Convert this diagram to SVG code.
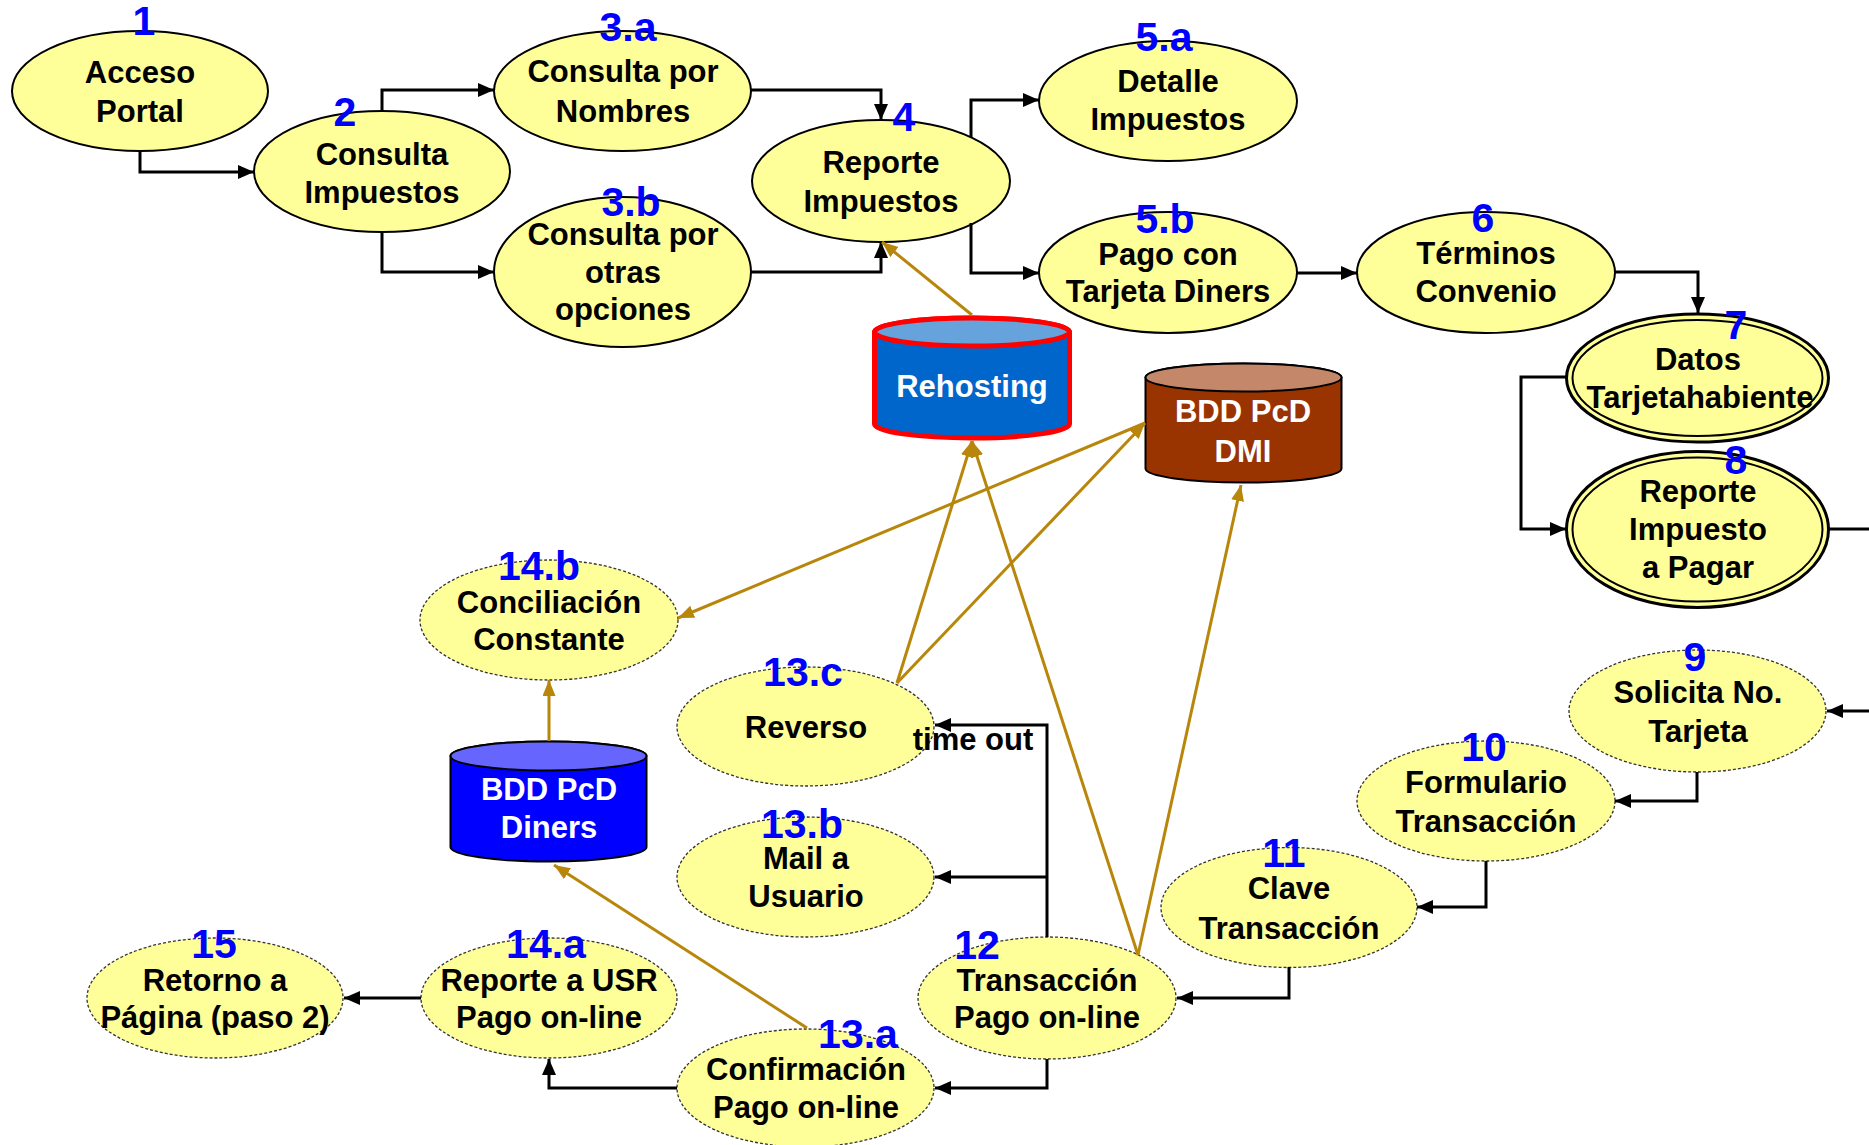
<svg xmlns="http://www.w3.org/2000/svg" width="1869" height="1145" viewBox="0 0 1869 1145">
<style>
.n{fill:#FFFF99;stroke:#000;stroke-width:2}
.d{fill:#FFFF99;stroke:#333;stroke-width:1.3;stroke-dasharray:3,2}
.in{fill:none;stroke:#000;stroke-width:2}
.t{font-family:"Liberation Sans",Arial,sans-serif;font-weight:bold;font-size:31px;text-anchor:middle;fill:#000}
.w{fill:#FFF}
.l{font-family:"Liberation Sans",Arial,sans-serif;font-weight:bold;font-size:41px;text-anchor:middle;fill:#0000FF}
.k{fill:none;stroke:#000;stroke-width:3}
.g{fill:none;stroke:#B8860B;stroke-width:3}
</style>
<defs>
<marker id="ab" markerUnits="userSpaceOnUse" markerWidth="17" markerHeight="15" refX="16" refY="7" orient="auto"><path d="M0,0 L16,7 L0,14 z" fill="#000"/></marker>
<marker id="ag" markerUnits="userSpaceOnUse" markerWidth="17" markerHeight="14" refX="16" refY="6.5" orient="auto"><path d="M0,0 L16,6.5 L0,13 z" fill="#B8860B"/></marker>
</defs>
<rect width="1869" height="1145" fill="#FFF"/>
<g id="n1"><ellipse class="n" cx="140" cy="91" rx="128" ry="60"/><text class="t" x="140" y="83">Acceso</text><text class="t" x="140" y="122">Portal</text><text class="l" x="144" y="35">1</text></g>
<g id="n2"><ellipse class="n" cx="382" cy="171.5" rx="128" ry="60.5"/><text class="t" x="382" y="165">Consulta</text><text class="t" x="382" y="203">Impuestos</text><text class="l" x="345" y="126">2</text></g>
<g id="n3a"><ellipse class="n" cx="622.5" cy="91" rx="128.5" ry="60"/><text class="t" x="623" y="82">Consulta por</text><text class="t" x="623" y="122">Nombres</text><text class="l" x="628" y="41">3.a</text></g>
<g id="n3b"><ellipse class="n" cx="622.5" cy="272" rx="128.5" ry="75"/><text class="t" x="623" y="245">Consulta por</text><text class="t" x="623" y="283">otras</text><text class="t" x="623" y="320">opciones</text><text class="l" x="631" y="216">3.b</text></g>
<g id="n4"><ellipse class="n" cx="881" cy="181" rx="129" ry="61"/><text class="t" x="881" y="173">Reporte</text><text class="t" x="881" y="212">Impuestos</text><text class="l" x="904" y="131">4</text></g>
<g id="n5a"><ellipse class="n" cx="1168" cy="101" rx="129" ry="60"/><text class="t" x="1168" y="92">Detalle</text><text class="t" x="1168" y="130">Impuestos</text><text class="l" x="1164" y="51">5.a</text></g>
<g id="n5b"><ellipse class="n" cx="1168" cy="272.5" rx="129" ry="60.5"/><text class="t" x="1168" y="265">Pago con</text><text class="t" x="1168" y="302">Tarjeta Diners</text><text class="l" x="1165" y="233">5.b</text></g>
<g id="n6"><ellipse class="n" cx="1486" cy="272.5" rx="129" ry="60.5"/><text class="t" x="1486" y="264">Términos</text><text class="t" x="1486" y="302">Convenio</text><text class="l" x="1483" y="232">6</text></g>
<g id="n7"><ellipse class="n" cx="1697.5" cy="378" rx="131" ry="64" style="stroke-width:3"/><ellipse class="in" cx="1697.5" cy="378" rx="125" ry="58"/><text class="t" x="1698" y="370">Datos</text><text class="t" x="1700" y="408">Tarjetahabiente</text><text class="l" x="1736" y="339">7</text></g>
<g id="n8"><ellipse class="n" cx="1697.5" cy="529.5" rx="131" ry="78" style="stroke-width:3"/><ellipse class="in" cx="1697.5" cy="529.5" rx="125" ry="72"/><text class="t" x="1698" y="502">Reporte</text><text class="t" x="1698" y="540">Impuesto</text><text class="t" x="1698" y="578">a Pagar</text><text class="l" x="1736" y="474">8</text></g>
<g id="n9"><ellipse class="d" cx="1697.5" cy="711" rx="128.5" ry="61"/><text class="t" x="1698" y="703">Solicita No.</text><text class="t" x="1698" y="742">Tarjeta</text><text class="l" x="1695" y="671">9</text></g>
<g id="n10"><ellipse class="d" cx="1486" cy="801" rx="129" ry="60"/><text class="t" x="1486" y="793">Formulario</text><text class="t" x="1486" y="832">Transacción</text><text class="l" x="1484" y="761">10</text></g>
<g id="n11"><ellipse class="d" cx="1289" cy="907.5" rx="128" ry="60"/><text class="t" x="1289" y="899">Clave</text><text class="t" x="1289" y="939">Transacción</text><text class="l" x="1284" y="867">11</text></g>
<g id="n12"><ellipse class="d" cx="1047" cy="998" rx="129" ry="61"/><text class="t" x="1047" y="991">Transacción</text><text class="t" x="1047" y="1028">Pago on-line</text><text class="l" x="977" y="959">12</text></g>
<g id="n13a"><ellipse class="d" cx="805.5" cy="1088" rx="128.5" ry="59"/><text class="t" x="806" y="1080">Confirmación</text><text class="t" x="806" y="1118">Pago on-line</text><text class="l" x="858" y="1048">13.a</text></g>
<g id="n13b"><ellipse class="d" cx="805.5" cy="877" rx="128.5" ry="60"/><text class="t" x="806" y="869">Mail a</text><text class="t" x="806" y="907">Usuario</text><text class="l" x="802" y="838">13.b</text></g>
<g id="n13c"><ellipse class="d" cx="805.5" cy="726.5" rx="128.5" ry="59.5"/><text class="t" x="806" y="738">Reverso</text><text class="l" x="803" y="686">13.c</text></g>
<g id="n14a"><ellipse class="d" cx="549" cy="998" rx="128" ry="60"/><text class="t" x="549" y="991">Reporte a USR</text><text class="t" x="549" y="1028">Pago on-line</text><text class="l" x="546" y="958">14.a</text></g>
<g id="n14b"><ellipse class="d" cx="549" cy="620" rx="129" ry="60"/><text class="t" x="549" y="613">Conciliación</text><text class="t" x="549" y="650">Constante</text><text class="l" x="539" y="580">14.b</text></g>
<g id="n15"><ellipse class="d" cx="215" cy="998" rx="128" ry="60"/><text class="t" x="215" y="991">Retorno a</text><text class="t" x="215" y="1028">Página (paso 2)</text><text class="l" x="214" y="958">15</text></g>
<g id="rehosting"><path d="M874.5,332 V424 A97.5,14 0 0 0 1069.5,424 V332 A97.5,14 0 0 0 874.5,332 Z" fill="#0066CC" stroke="#FF0000" stroke-width="5"/><ellipse cx="972" cy="332" rx="97.5" ry="14" fill="#66A3DD" stroke="#FF0000" stroke-width="5"/><text class="t w" x="972" y="397">Rehosting</text></g>
<g id="dmi"><path d="M1145.5,377.5 V468.5 A98,14 0 0 0 1341.5,468.5 V377.5 A98,14 0 0 0 1145.5,377.5 Z" fill="#993300" stroke="#000" stroke-width="2"/><ellipse cx="1243.5" cy="377.5" rx="98" ry="14" fill="#C4876A" stroke="#000" stroke-width="2"/><text class="t w" x="1243" y="422">BDD PcD</text><text class="t w" x="1243" y="462">DMI</text></g>
<g id="diners"><path d="M450.5,756 V847 A98,14.5 0 0 0 646.5,847 V756 A98,14.5 0 0 0 450.5,756 Z" fill="#0000FF" stroke="#000" stroke-width="2"/><ellipse cx="548.5" cy="756" rx="98" ry="14.5" fill="#6666FF" stroke="#000" stroke-width="2"/><text class="t w" x="549" y="800">BDD PcD</text><text class="t w" x="549" y="838">Diners</text></g>
<g id="connectors">
<path class="k" d="M140,151 V172 H254" marker-end="url(#ab)"/>
<path class="k" d="M382,111 V90 H494" marker-end="url(#ab)"/>
<path class="k" d="M382,232 V272 H494" marker-end="url(#ab)"/>
<path class="k" d="M751,90 H881 V120" marker-end="url(#ab)"/>
<path class="k" d="M751,272 H881 V242" marker-end="url(#ab)"/>
<path class="k" d="M971,137 V100 H1039" marker-end="url(#ab)"/>
<path class="k" d="M971,223 V273 H1039" marker-end="url(#ab)"/>
<path class="k" d="M1297,273 H1357" marker-end="url(#ab)"/>
<path class="k" d="M1615,272 H1698 V313" marker-end="url(#ab)"/>
<path class="k" d="M1566,377 H1521 V529 H1566" marker-end="url(#ab)"/>
<path class="k" d="M1829,529 H1869"/>
<path class="k" d="M1869,711 H1827" marker-end="url(#ab)"/>
<path class="k" d="M1697,772 V801 H1615" marker-end="url(#ab)"/>
<path class="k" d="M1486,861 V907 H1417" marker-end="url(#ab)"/>
<path class="k" d="M1289,967 V998 H1177" marker-end="url(#ab)"/>
<path class="k" d="M1047,937 V725 H935" marker-end="url(#ab)"/>
<path class="k" d="M1047,877 H935" marker-end="url(#ab)"/>
<path class="k" d="M1047,1059 V1088 H935" marker-end="url(#ab)"/>
<path class="k" d="M677,1088 H549 V1059" marker-end="url(#ab)"/>
<path class="k" d="M421,998 H344" marker-end="url(#ab)"/>
<path class="g" d="M972,315 L882,242" marker-end="url(#ag)"/>
<path class="g" d="M897,683 L972,441" marker-end="url(#ag)"/>
<path class="g" d="M1138,955 L972,441" marker-end="url(#ag)"/>
<path class="g" d="M897,683 L1145,423" marker-end="url(#ag)"/>
<path class="g" d="M1145,423 L678,618" marker-end="url(#ag)"/>
<path class="g" d="M1138,955 L1241,485" marker-end="url(#ag)"/>
<path class="g" d="M549,741 V680" marker-end="url(#ag)"/>
<path class="g" d="M807,1028 L554,865" marker-end="url(#ag)"/>
<text class="t" x="973" y="750">time out</text>
</g>
</svg>
